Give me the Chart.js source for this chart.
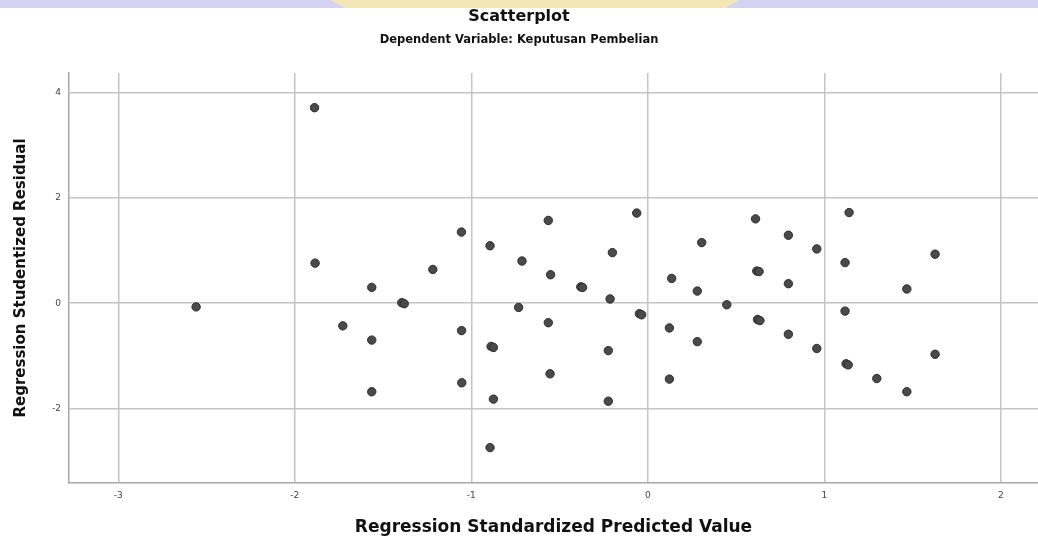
<!DOCTYPE html>
<html><head><meta charset="utf-8">
<script src="https://cdn.jsdelivr.net/npm/chart.js@4.4.0/dist/chart.umd.min.js"></script>
<style>html,body{margin:0;padding:0;background:#fff;overflow:hidden}canvas{display:block}</style>
</head><body>
<canvas id="c" width="1038" height="538"></canvas>
<script>
// Regression Standardized Predicted Value
const predicted = [-1.888, -2.559, -1.885, -1.728, -1.564, -1.564, -1.564, -1.394, -1.380, -1.218,
  -1.056, -1.055, -1.054, -0.894, -0.888, -0.875, -0.875, -0.894, -0.732, -0.713,
  -0.564, -0.551, -0.564, -0.554, -0.380, -0.370, -0.201, -0.214, -0.224, -0.224,
  -0.063, -0.048, -0.035, 0.135, 0.122, 0.122, 0.305, 0.280, 0.280, 0.447,
  0.610, 0.617, 0.630, 0.621, 0.635, 0.796, 0.796, 0.796, 0.957, 0.957,
  1.140, 1.117, 1.117, 1.123, 1.135, 1.297, 1.467, 1.467, 1.627, 1.627];
// Regression Studentized Residual
const residual = [3.71, -0.07, 0.76, -0.43, 0.30, -0.70, -1.68, 0.01, -0.01, 0.64,
  1.35, -0.52, -1.51, 1.09, -0.82, -0.84, -1.82, -2.74, -0.08, 0.80,
  1.57, 0.54, -0.37, -1.34, 0.31, 0.30, 0.96, 0.08, -0.90, -1.86,
  1.71, -0.20, -0.22, 0.47, -0.47, -1.44, 1.15, 0.23, -0.73, -0.03,
  1.60, 0.61, 0.60, -0.31, -0.33, 1.29, 0.37, -0.59, 1.03, -0.86,
  1.72, 0.77, -0.15, -1.15, -1.17, -1.43, 0.27, -1.68, 0.93, -0.97];
const xTicks = [-3, -2, -1, 0, 1, 2];
const yTicks = [-2, 0, 2, 4];
const titleText = 'Scatterplot';
const subtitleText = 'Dependent Variable: Keputusan Pembelian';
const xTitle = 'Regression Standardized Predicted Value';
const yTitle = 'Regression Studentized Residual';

const FONT = "'DejaVu Sans', sans-serif";
const points = predicted.map((x, i) => ({x: x, y: residual[i]}));

const banner = {
  id: 'banner',
  beforeDraw(chart) {
    const ctx = chart.ctx;
    ctx.save();
    ctx.fillStyle = '#d4d4f2';
    ctx.fillRect(0, 0, chart.width, 8);
    ctx.fillStyle = '#f5e6b8';
    ctx.beginPath();
    ctx.moveTo(330, 0); ctx.lineTo(740, 0); ctx.lineTo(725, 8); ctx.lineTo(345, 8);
    ctx.closePath(); ctx.fill();
    ctx.restore();
  }
};

new Chart(document.getElementById('c'), {
  type: 'scatter',
  data: { datasets: [{
    data: points,
    pointRadius: 4.2,
    pointHoverRadius: 4.2,
    backgroundColor: '#4a4a4a',
    borderColor: '#2c2c2c',
    borderWidth: 1
  }]},
  options: {
    responsive: false,
    animation: false,
    layout: { padding: 0, autoPadding: false },
    plugins: {
      legend: { display: false },
      tooltip: { enabled: false },
      title: { display: true, text: titleText, color: '#111',
        font: { family: FONT, size: 16, weight: 'bold', lineHeight: 1.2 },
        padding: { top: 7.4, bottom: 6.5 } },
      subtitle: { display: true, text: subtitleText, color: '#111',
        font: { family: FONT, size: 11.5, weight: 'bold', lineHeight: 1.2 },
        padding: { top: 0, bottom: 26.1 } }
    },
    scales: {
      x: {
        type: 'linear', min: -3.279, max: 2.21,
        afterBuildTicks: s => { s.ticks = xTicks.map(v => ({value: v})); },
        afterFit: s => { s.height = 55; s.paddingLeft = 0; s.paddingRight = 0; },
        grid: { color: '#c4c4c4', lineWidth: 1.5, drawTicks: false },
        border: { color: '#a8a8a8', width: 1.5 },
        ticks: { color: '#444', padding: 7, font: { family: FONT, size: 9 },
          callback: v => String(v) },
        title: { display: true, text: xTitle, color: '#111',
          font: { family: FONT, size: 17, weight: 'bold', lineHeight: 1.2 },
          padding: { top: 0, bottom: 0 } }
      },
      y: {
        type: 'linear', min: -3.412, max: 4.368,
        afterBuildTicks: s => { s.ticks = yTicks.map(v => ({value: v})); },
        afterFit: s => { s.width = 69; s.paddingTop = 0; s.paddingBottom = 0; },
        grid: { color: '#c4c4c4', lineWidth: 1.5, drawTicks: false },
        border: { color: '#a8a8a8', width: 1.5 },
        ticks: { color: '#444', padding: 8, font: { family: FONT, size: 9 },
          callback: v => String(v) },
        title: { display: true, text: yTitle, color: '#111',
          font: { family: FONT, size: 15, weight: 'bold', lineHeight: 1.2 },
          padding: { top: 12.5, bottom: 0 } }
      }
    }
  },
  plugins: [banner]
});
</script>
</body></html>
